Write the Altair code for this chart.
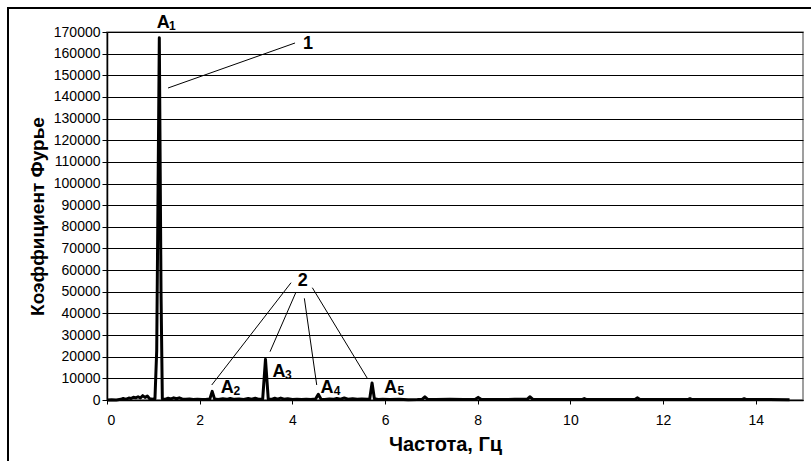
import altair as alt
import pandas as pd

# Spectrum (frequency in Hz, Fourier coefficient)
freq = [0.00, 0.10, 0.20, 0.30, 0.35, 0.40, 0.47, 0.52, 0.57, 0.62, 0.67, 0.72, 0.77, 0.82, 0.87, 0.92, 0.98,
        1.035, 1.073, 1.129, 1.166, 1.194,
        1.25, 1.32, 1.38, 1.44, 1.50, 1.56, 1.62, 1.70, 1.78, 1.86, 1.95, 2.05, 2.15, 2.22, 2.27, 2.32,
        2.40, 2.50, 2.58, 2.66, 2.75, 2.85, 2.95, 3.05, 3.12, 3.20, 3.28, 3.36, 3.42, 3.48,
        3.55, 3.62, 3.68, 3.75, 3.82, 3.90, 4.00, 4.10, 4.20, 4.30, 4.40, 4.50, 4.56, 4.62,
        4.70, 4.80, 4.88, 4.96, 5.04, 5.12, 5.20, 5.30, 5.40, 5.50, 5.62, 5.67, 5.72, 5.77,
        5.85, 5.95, 6.10, 6.30, 6.50, 6.70, 6.80, 6.86, 6.92, 7.10, 7.40, 7.70, 7.95, 8.01, 8.07,
        8.40, 8.80, 9.07, 9.13, 9.19, 9.60, 10.00, 10.25, 10.30, 10.35, 10.80, 11.40, 11.45, 11.50,
        12.00, 12.53, 12.58, 12.63, 13.20, 13.70, 13.75, 13.80, 14.30, 14.73]
coef = [0, 100, 0, 300, 700, 300, 900, 700, 1300, 1000, 1500, 900, 2000, 1200, 1800, 600, 400,
        600, 23000, 167300, 49400, 600,
        300, 800, 500, 1000, 600, 1000, 500, 300, 500, 200, 400, 200, 300, 500, 4000, 500,
        200, 600, 300, 700, 300, 500, 200, 700, 400, 800, 300, 500, 18800, 500,
        300, 800, 400, 900, 400, 600, 200, 300, 200, 400, 200, 500, 2600, 400,
        200, 500, 300, 700, 400, 900, 400, 600, 300, 500, 300, 600, 7900, 600,
        200, 400, 200, 300, 100, 200, 300, 1500, 300, 200, 300, 200, 300, 1200, 300,
        200, 300, 400, 1500, 300, 200, 200, 200, 700, 200, 200, 300, 1000, 200,
        200, 200, 600, 200, 200, 200, 600, 200, 200, 100]

x_ticks = [0, 2, 4, 6, 8, 10, 12, 14]
y_ticks = [0, 10000, 20000, 30000, 40000, 50000, 60000, 70000, 80000, 90000,
           100000, 110000, 120000, 130000, 140000, 150000, 160000, 170000]

# Annotation labels (main letter "A", subscripts, callout numbers)
a_text = ["A", "A", "A", "A", "A"]
a_x = [1.215, 2.594, 3.712, 4.749, 6.119]
a_y = [174250, 5636, 12842, 5682, 5405]
sub_text = ["1", "2", "3", "4", "5"]
sub_x = [1.409, 2.802, 3.913, 4.964, 6.341]
sub_y = [172630, 4019, 11410, 4065, 4065]
num_text = ["1", "2"]
num_x = [4.338, 4.224]
num_y = [164550, 55110]

# Leader lines
ld_x = [4.058, 3.972, 4.073, 4.259, 4.431]
ld_y = [164920, 54190, 49570, 46981, 51878]
ld_x2 = [1.317, 2.260, 3.518, 4.526, 5.627]
ld_y2 = [144130, 6929, 22313, 6929, 9701]

FONT = "Liberation Sans"
XMAX = 15.02
X_TITLE = "Частота, Гц"
Y_TITLE = "Коэффициент Фурье"

spec = pd.DataFrame({"f": freq, "c": coef})
ann = pd.DataFrame({"t": a_text, "x": a_x, "y": a_y})
sub = pd.DataFrame({"t": sub_text, "x": sub_x, "y": sub_y})
num = pd.DataFrame({"t": num_text, "x": num_x, "y": num_y})
lead = pd.DataFrame({"x": ld_x, "y": ld_y, "x2": ld_x2, "y2": ld_y2})

xs = alt.Scale(domain=[0, XMAX], nice=False, zero=False)
ys = alt.Scale(domain=[0, 170000], nice=False)

x_axis = alt.Axis(values=x_ticks, grid=False, format="d", tickSize=4, labelPadding=9,
                  labelOverlap=False, domainColor="black", domainWidth=1.5, tickColor="black",
                  titleFontSize=20, titleFontWeight="bold", titleY=44, titleX=338,
                  titleBaseline="middle")
y_axis = alt.Axis(values=y_ticks, grid=True, gridColor="black", gridWidth=1, format="d",
                  labelOverlap=False, tickSize=5, labelPadding=2, domainColor="black",
                  domainWidth=1.5, tickColor="black", titleFontSize=19, titleFontWeight="bold",
                  titleX=-70, titleBaseline="middle")


def X(field):
    return alt.X(field, scale=xs, axis=x_axis, title=X_TITLE)


def Y(field):
    return alt.Y(field, scale=ys, axis=y_axis, title=Y_TITLE)


line = alt.Chart(spec).mark_line(color="black", strokeWidth=3, strokeJoin="round").encode(
    x=X("f:Q"), y=Y("c:Q"))

leaders = alt.Chart(lead).mark_rule(color="black", strokeWidth=1).encode(
    x=X("x:Q"), y=Y("y:Q"), x2="x2:Q", y2="y2:Q")

atext = alt.Chart(ann).mark_text(font=FONT, fontSize=18, fontWeight="bold", baseline="middle",
                                 align="center", color="black").encode(
    x=X("x:Q"), y=Y("y:Q"), text="t:N")
stext = alt.Chart(sub).mark_text(font=FONT, fontSize=12, fontWeight="bold", baseline="middle",
                                 align="center", color="black").encode(
    x=X("x:Q"), y=Y("y:Q"), text="t:N")
ntext = alt.Chart(num).mark_text(font=FONT, fontSize=18, fontWeight="bold", baseline="middle",
                                 align="center", color="black").encode(
    x=X("x:Q"), y=Y("y:Q"), text="t:N")

frame_left = alt.Chart(spec).mark_rule(color="black", strokeWidth=2).encode(
    x=alt.value(-99), y=alt.value(-25), y2=alt.value(470))
frame_top = alt.Chart(spec).mark_rule(color="black", strokeWidth=2).encode(
    x=alt.value(-100), x2=alt.value(720), y=alt.value(-24))

chart = alt.layer(line, leaders, atext, stext, ntext, frame_left, frame_top).properties(
    width=696, height=368,
    autosize=alt.AutoSizeParams(type="none"),
    padding={"left": 107, "top": 32, "right": 8, "bottom": 61},
    background="white",
).configure_view(stroke="#808080", strokeWidth=1.5).configure_axis(
    labelFont=FONT, titleFont=FONT, labelFontSize=14, labelColor="black", titleColor="black",
    labelOverlap=False
)

chart.save("out.html", embed_options={"renderer": "svg", "actions": False})
